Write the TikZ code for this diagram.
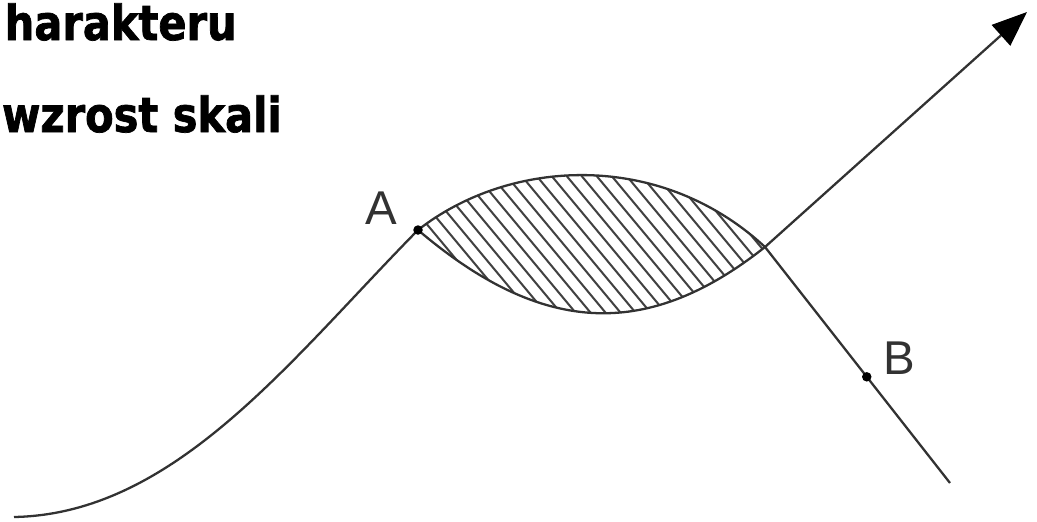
\documentclass[tikz,border=0pt]{standalone}
\usepackage{fontspec}
\usetikzlibrary{arrows.meta,calc}
\newfontfamily\headfont[FakeStretch=0.86, BoldFeatures={FakeBold=1.5}]{DejaVu Sans}
\newfontfamily\labelfont{Liberation Sans}
\definecolor{curveGray}{RGB}{50, 50, 50}
\definecolor{hatchGray}{RGB}{65, 65, 65}

\begin{document}
\begin{tikzpicture}[
  x=0.02cm, y=-0.02cm,
  curve/.style={draw=curveGray, line width=1.3pt},
  hatchline/.style={draw=hatchGray, line width=1.15pt},
  pointdot/.style={circle, fill=black, inner sep=0pt, minimum size=1.9mm},
  pointlabel/.style={font=\labelfont\fontsize{27}{30}\selectfont, text=curveGray, inner sep=0pt},
  headline/.style={font=\headfont\bfseries\fontsize{27.5}{32}\selectfont, anchor=base east, inner sep=0pt},
  arrow/.style={-{Triangle[length=7mm, width=5.5mm, color=black]}}
]
\useasboundingbox (0,0) rectangle (1037,521);
\coordinate (start) at (14,517);
\coordinate (A) at (418,230);
\coordinate (C) at (765,247);
\coordinate (end) at (950,483);
\coordinate (tip) at (1027,12);
\coordinate (B) at ($(C)!0.55!(end)$);
\node[headline] (heading1) at (237,40) {harakteru};
\node[headline] (heading2) at (282,132) {wzrost skali};
\begin{scope}
  \clip (A) .. controls (510,158) and (660,150) .. (C)
        .. controls (650,338) and (545,338) .. (A);
  \foreach \x in {200,215,...,800}
    \draw[hatchline] (\x,150) -- ++(150,180);
\end{scope}
\draw[curve] (start) .. controls (175,514) and (290,360) .. (A)
  .. controls (510,158) and (660,150) .. (C) -- (end);
\draw[curve, arrow] (A) .. controls (545,338) and (650,338) .. (C) -- (tip);
\node[pointdot] (dotA) at (A) {};
\node[pointdot] (dotB) at (B) {};
\node[pointlabel] (labelA) at (381,208) {A};
\node[pointlabel] (labelB) at (899,358) {B};
\end{tikzpicture}
\end{document}
